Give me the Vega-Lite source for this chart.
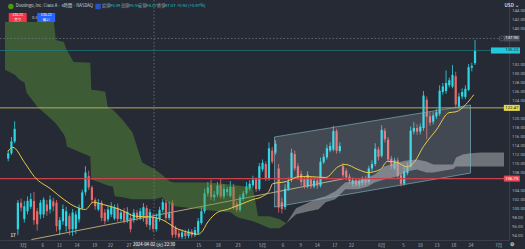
{
"$schema":"https://vega.github.io/schema/vega-lite/v6.json",
"width":509,"height":240,
"autosize":{"type":"none"},
"padding":{"left":0,"top":0,"right":16,"bottom":9},
"background":"#262a34",
"config":{"view":{"stroke":null},"font":"Noto Sans CJK JP"},
"resolve":{"axis":{"x":"independent","y":"independent"}},
"datasets":{
"candles":[
{"i":0,"o":111.2,"h":113,"l":110.6,"c":112.4},{"i":1,"o":112.4,"h":116,"l":112,"c":115},{"i":2,"o":115,"h":119.5,"l":114.6,"c":117.8},
{"i":3,"o":95.5,"h":102,"l":94.2,"c":101.4},{"i":4,"o":101.4,"h":102.3,"l":99.5,"c":100.3},{"i":5,"o":97.8,"h":101.8,"l":97,"c":100.6},
{"i":6,"o":99.5,"h":102.8,"l":98.8,"c":101.8},{"i":7,"o":100.5,"h":103.5,"l":100,"c":102.2},{"i":8,"o":101.8,"h":103.8,"l":96.5,"c":97.5},
{"i":9,"o":99.5,"h":100.2,"l":95.2,"c":96.6},{"i":10,"o":98.8,"h":102,"l":97.8,"c":101.4},{"i":11,"o":98.8,"h":102.6,"l":98,"c":102.1},
{"i":12,"o":101,"h":102,"l":98.5,"c":99.5},{"i":13,"o":99.9,"h":103,"l":99,"c":102.1},{"i":14,"o":101.7,"h":102.5,"l":99.5,"c":100.6},
{"i":15,"o":101.4,"h":102,"l":95,"c":96.2},{"i":16,"o":95.4,"h":98.2,"l":94.2,"c":97.5},{"i":17,"o":97.3,"h":101,"l":96.5,"c":100},
{"i":18,"o":96.2,"h":100.5,"l":95,"c":99.5},{"i":19,"o":98.4,"h":99,"l":94.2,"c":95.5},{"i":20,"o":95.5,"h":100,"l":94,"c":99.2},
{"i":21,"o":95.6,"h":99.5,"l":94.5,"c":98.8},{"i":22,"o":97.7,"h":101,"l":97,"c":100.2},{"i":23,"o":100.2,"h":104.3,"l":99.8,"c":103.7},
{"i":24,"o":103.7,"h":109.5,"l":103,"c":108.1},{"i":25,"o":107.3,"h":108.5,"l":104.2,"c":104.8},{"i":26,"o":104.8,"h":105.2,"l":101.2,"c":102},
{"i":27,"o":102,"h":102.5,"l":99.8,"c":100.6},{"i":28,"o":99.9,"h":102.2,"l":99.5,"c":101.3},{"i":29,"o":101.4,"h":101.9,"l":97.3,"c":98},
{"i":30,"o":99.2,"h":100,"l":96.6,"c":97.3},{"i":31,"o":97.7,"h":100.6,"l":97.2,"c":99.9},{"i":32,"o":98.8,"h":101.5,"l":98.2,"c":100.5},
{"i":33,"o":97.9,"h":101,"l":97.5,"c":100.3},{"i":34,"o":100.3,"h":101.2,"l":97.2,"c":97.8},{"i":35,"o":97.8,"h":99.8,"l":97.3,"c":99.2},
{"i":36,"o":99.5,"h":100.2,"l":96.8,"c":97.2},{"i":37,"o":97.4,"h":100.4,"l":96.9,"c":99.4},{"i":38,"o":98,"h":99,"l":94.8,"c":95.5},
{"i":39,"o":97.6,"h":100,"l":97,"c":99.2},{"i":40,"o":99.2,"h":99.8,"l":97.4,"c":98},{"i":41,"o":98,"h":100.2,"l":97.5,"c":99.5},
{"i":42,"o":98.5,"h":101.3,"l":97.2,"c":100.4},{"i":43,"o":100.2,"h":100.8,"l":96,"c":96.6},{"i":44,"o":96.4,"h":100,"l":95.4,"c":99.3},
{"i":45,"o":98.2,"h":99,"l":95,"c":95.6},{"i":46,"o":95.5,"h":99,"l":95,"c":98},{"i":47,"o":97.8,"h":100.5,"l":97.2,"c":99.8},
{"i":48,"o":99.8,"h":102.2,"l":99.2,"c":101.5},{"i":49,"o":101.4,"h":102,"l":97.4,"c":98},{"i":50,"o":98,"h":101.7,"l":97.5,"c":99},
{"i":51,"o":101.4,"h":102,"l":93.6,"c":94.2},{"i":52,"o":95.8,"h":96.3,"l":93.6,"c":94.3},{"i":53,"o":94.6,"h":95.5,"l":93.4,"c":93.8},
{"i":54,"o":93.8,"h":95.5,"l":93.3,"c":94.8},{"i":55,"o":94.8,"h":95.4,"l":93.3,"c":94},{"i":56,"o":94,"h":95.6,"l":93.5,"c":95},
{"i":57,"o":95,"h":95.5,"l":93.6,"c":94.2},{"i":58,"o":94.2,"h":96,"l":93.8,"c":95.3},{"i":59,"o":94.7,"h":98,"l":94.3,"c":97.3},
{"i":60,"o":96.9,"h":100.5,"l":96.5,"c":99.5},{"i":61,"o":99.5,"h":104.5,"l":99,"c":103.5},{"i":62,"o":103.5,"h":106,"l":102.8,"c":104.8},
{"i":63,"o":105.4,"h":106.5,"l":102,"c":102.6},{"i":64,"o":102.6,"h":104,"l":101.8,"c":103.2},{"i":65,"o":103.2,"h":106,"l":102.6,"c":105.2},
{"i":66,"o":105.4,"h":106.8,"l":102.3,"c":102.8},{"i":67,"o":102.8,"h":105.5,"l":102.2,"c":104.5},{"i":68,"o":103.8,"h":105,"l":103,"c":104.4},
{"i":69,"o":102.9,"h":106.2,"l":102.5,"c":104.9},{"i":70,"o":104.9,"h":105.6,"l":99.8,"c":100.4},{"i":71,"o":101.2,"h":101.8,"l":99.3,"c":99.8},
{"i":72,"o":99.8,"h":103.2,"l":99.3,"c":102.6},{"i":73,"o":102.2,"h":104,"l":101.8,"c":103.5},{"i":74,"o":103.5,"h":106,"l":103,"c":105},
{"i":75,"o":104.5,"h":106.4,"l":104,"c":105.6},{"i":76,"o":105.3,"h":107.4,"l":104.8,"c":106.5},{"i":77,"o":106.6,"h":107,"l":103.8,"c":104.4},
{"i":78,"o":104.4,"h":110.2,"l":104,"c":109.5},{"i":79,"o":108.8,"h":111,"l":108.3,"c":110.3},{"i":80,"o":110,"h":110.6,"l":106.2,"c":106.8},
{"i":81,"o":106.8,"h":114.8,"l":106.3,"c":113.5},{"i":82,"o":113,"h":113.8,"l":110,"c":110.5},{"i":83,"o":112.5,"h":115.3,"l":112,"c":114.5},
{"i":84,"o":109,"h":110,"l":99.2,"c":100.3},{"i":85,"o":101.5,"h":102.5,"l":99,"c":100},{"i":86,"o":100.4,"h":105.5,"l":99.8,"c":104.5},
{"i":87,"o":104.5,"h":107,"l":104,"c":106},{"i":88,"o":106.5,"h":113.4,"l":106,"c":112.5},{"i":89,"o":112.2,"h":113,"l":108.5,"c":109},
{"i":90,"o":109.5,"h":110.2,"l":106.5,"c":107},{"i":91,"o":107.8,"h":108.5,"l":105.2,"c":106},{"i":92,"o":106.8,"h":107.3,"l":104.5,"c":105},
{"i":93,"o":105,"h":108.4,"l":104.6,"c":107.6},{"i":94,"o":106.6,"h":107.2,"l":104.5,"c":105},{"i":95,"o":105,"h":107,"l":104.6,"c":106.3},
{"i":96,"o":106.3,"h":106.8,"l":104.5,"c":105.2},{"i":97,"o":105.2,"h":111.4,"l":104.8,"c":110.5},{"i":98,"o":110.4,"h":112.3,"l":110,"c":111.6},
{"i":99,"o":111.5,"h":114.3,"l":111,"c":113.5},{"i":100,"o":113,"h":114.8,"l":112.6,"c":114},{"i":101,"o":113.2,"h":118.5,"l":112.8,"c":117.3},
{"i":102,"o":117.3,"h":117.8,"l":112.3,"c":112.9},{"i":103,"o":112.9,"h":114.8,"l":112.5,"c":114},{"i":104,"o":109.5,"h":110.2,"l":107,"c":107.5},
{"i":105,"o":108.5,"h":109,"l":106.5,"c":107},{"i":106,"o":107.2,"h":107.8,"l":105.6,"c":106.2},{"i":107,"o":105.6,"h":107,"l":105,"c":106.4},
{"i":108,"o":106.4,"h":106.9,"l":105,"c":105.4},{"i":109,"o":105.4,"h":106.8,"l":104.8,"c":106.2},{"i":110,"o":105.8,"h":107.2,"l":105.3,"c":106.6},
{"i":111,"o":106.8,"h":107.4,"l":105.2,"c":105.8},{"i":112,"o":106,"h":109.6,"l":105.6,"c":109},{"i":113,"o":109,"h":110.8,"l":108.4,"c":110},
{"i":114,"o":110,"h":114.6,"l":109.5,"c":113.4},{"i":115,"o":113.2,"h":113.8,"l":110.8,"c":111.6},{"i":116,"o":111.8,"h":118.6,"l":111.4,"c":117.6},
{"i":117,"o":117.4,"h":118,"l":114.8,"c":115.5},{"i":118,"o":115.4,"h":116,"l":110.4,"c":111},{"i":119,"o":111.2,"h":111.8,"l":108.9,"c":109.5},
{"i":120,"o":109,"h":111.4,"l":108.6,"c":110.8},{"i":121,"o":110.8,"h":111.4,"l":106.8,"c":107.3},{"i":122,"o":107.5,"h":108,"l":105,"c":105.6},
{"i":123,"o":105.6,"h":109.5,"l":105.2,"c":108.4},{"i":124,"o":108,"h":110.3,"l":107.5,"c":109.5},{"i":125,"o":109.4,"h":118.3,"l":109,"c":117.4},
{"i":126,"o":117.2,"h":119.3,"l":116.6,"c":118},{"i":127,"o":118,"h":118.8,"l":116.5,"c":117.2},{"i":128,"o":117.2,"h":119,"l":116.6,"c":118.3},
{"i":129,"o":118,"h":126.2,"l":117.4,"c":125.2},{"i":130,"o":124.3,"h":125,"l":115.5,"c":120.5},{"i":131,"o":120.6,"h":121.5,"l":118.5,"c":119.2},
{"i":132,"o":119.4,"h":121.5,"l":118.8,"c":120.8},{"i":133,"o":120.6,"h":122.2,"l":120,"c":121.5},{"i":134,"o":121.2,"h":127.5,"l":120.7,"c":126.3},
{"i":135,"o":126,"h":128,"l":125.4,"c":127.2},{"i":136,"o":126.2,"h":130.8,"l":125.6,"c":128},{"i":137,"o":127.5,"h":129.2,"l":127,"c":128.6},
{"i":138,"o":127.2,"h":132,"l":126.8,"c":129.8},{"i":139,"o":129.5,"h":130.5,"l":122.6,"c":123.2},{"i":140,"o":122.8,"h":125.8,"l":122.3,"c":125},
{"i":141,"o":125,"h":126.8,"l":124.4,"c":126},{"i":142,"o":124.9,"h":127.5,"l":124.4,"c":126.7},{"i":143,"o":126.5,"h":132.2,"l":126.2,"c":131.5},
{"i":144,"o":131.4,"h":132.5,"l":130.6,"c":131.8},{"i":145,"o":132.4,"h":137.6,"l":132,"c":135.22}
],
"ma":[
{"i":-0.1,"v":112.8},{"i":1.4,"v":113.7},{"i":5.1,"v":110.3},{"i":8.1,"v":107.2},{"i":13.3,"v":104.4},{"i":17.3,"v":102.1},{"i":21.2,"v":100.4},{"i":24,"v":99.9},{"i":26.4,"v":101.5},{"i":29.5,"v":101},{"i":34.7,"v":99.9},{"i":39.5,"v":98.4},{"i":44.7,"v":98.2},{"i":48.7,"v":97.3},{"i":51.7,"v":95.9},{"i":56,"v":94.8},{"i":59,"v":94.4},{"i":60,"v":94.8},{"i":62,"v":97.1},{"i":65.1,"v":99.3},{"i":68.1,"v":99.9},{"i":72.1,"v":101},{"i":76,"v":102.1},{"i":79,"v":102.8},{"i":81.2,"v":104.2},{"i":82.1,"v":105.6},{"i":86.4,"v":106.1},{"i":90.4,"v":107.2},{"i":93.4,"v":107.2},{"i":98.6,"v":107},{"i":102.5,"v":109.4},{"i":104.7,"v":109.9},{"i":108.6,"v":108.8},{"i":111.7,"v":108.1},{"i":115.6,"v":108.8},{"i":117.8,"v":110.6},{"i":120.8,"v":110.3},{"i":123.8,"v":109.4},{"i":126,"v":110.3},{"i":129,"v":113.9},{"i":133,"v":117.6},{"i":136.9,"v":121.4},{"i":139.1,"v":121.6},{"i":142.1,"v":123.2},{"i":144.6,"v":125.4}
],
"green":[
{"i":-1,"top":141.55,"bot":130.92},{"i":2.05,"top":141.55,"bot":129.82},{"i":3.57,"top":141.55,"bot":128.71},{"i":5.09,"top":141.55,"bot":128.05},{"i":5.7,"top":141.55,"bot":125.83},{"i":9.05,"top":141.55,"bot":122.73},{"i":13.6,"top":141.55,"bot":119.85},{"i":14.2,"top":141.55,"bot":119.41},{"i":14.8,"top":137.56,"bot":118.97},{"i":17.3,"top":137.12,"bot":116.53},{"i":17.9,"top":135.79,"bot":115.43},{"i":18.2,"top":135.35,"bot":113.88},{"i":20.3,"top":132.69,"bot":113.21},{"i":25.5,"top":132.47,"bot":111.66},{"i":25.8,"top":126.5,"bot":106.57},{"i":28.5,"top":126.27,"bot":105.91},{"i":30.1,"top":126.05,"bot":105.46},{"i":31,"top":122.51,"bot":105.24},{"i":32.5,"top":122.07,"bot":105.02},{"i":33.1,"top":121.63,"bot":102.81},{"i":35.5,"top":119.85,"bot":102.59},{"i":38.6,"top":116.98,"bot":102.14},{"i":41.6,"top":110.33,"bot":102.14},{"i":45.6,"top":108.78,"bot":102.14},{"i":47.7,"top":107.68,"bot":102.59},{"i":50.2,"top":106.13,"bot":101.04},{"i":51.7,"top":105.91,"bot":100.59},{"i":59.9,"top":105.91,"bot":99.93},{"i":62,"top":105.91,"bot":99.71},{"i":69,"top":105.46,"bot":99.27},{"i":71.2,"top":105.24,"bot":98.16},{"i":76,"top":104.8,"bot":97.27},{"i":77.6,"top":98.38,"bot":96.83},{"i":81.2,"top":98.38,"bot":95.72},{"i":84.3,"top":97.71,"bot":95.72},{"i":86.4,"top":96.83,"bot":96.83}
],
"gray":[
{"i":86.4,"top":96.83,"bot":96.83},{"i":89.4,"top":100.15,"bot":98.82},{"i":93.4,"top":101.48,"bot":99.49},{"i":96.4,"top":102.36,"bot":99.93},{"i":98.6,"top":102.81,"bot":101.48},{"i":101.6,"top":103.92,"bot":102.14},{"i":104.7,"top":105.91,"bot":104.36},{"i":108.6,"top":106.35,"bot":104.36},{"i":111.7,"top":107.01,"bot":105.02},{"i":113.8,"top":107.68,"bot":105.91},{"i":116.8,"top":109.45,"bot":106.57},{"i":120.8,"top":110.33,"bot":107.23},{"i":123.8,"top":110.78,"bot":108.34},{"i":126.9,"top":111,"bot":108.78},{"i":129.9,"top":110.56,"bot":108.12},{"i":132.1,"top":109.89,"bot":108.12},{"i":138.2,"top":109.89,"bot":108.9},{"i":139.1,"top":111.44,"bot":109.45},{"i":141.2,"top":112.11,"bot":109.45},{"i":143,"top":112.33,"bot":109.45},{"i":146.7,"top":112.55,"bot":109.45},{"i":154,"top":112.55,"bot":109.45}
],
"channel":[{"i":82.7,"top":116.0,"bot":100.44},{"i":143.6,"top":123.11,"bot":107.99}],
"trend":[{"i":7.2,"v":93.2},{"i":104.1,"v":106.7}],
"levels":[{"v":122.47,"k":"yel","label":"122.47"},{"v":106.75,"k":"red","label":"106.75"},{"v":135.22,"k":"last","label":"135.22"},{"v":137.9,"k":"cross","label":"137.90"}],
"vcross":[{"i":45.3,"label":"2024-04-02 (火) 22:30"}],
"hdr":[
{"i":2.35,"v":145.0,"label":"Duolingo, Inc. Class A · 4時間 · NASDAQ","g":"title"},
{"i":29.15,"v":145.0,"label":"始値","g":"lab"},{"i":31.6,"v":145.0,"label":"95.09","g":"val"},
{"i":35.0,"v":145.0,"label":"高値","g":"lab"},{"i":37.5,"v":145.0,"label":"95.55","g":"val"},
{"i":40.4,"v":145.0,"label":"安値","g":"lab"},{"i":42.9,"v":145.0,"label":"94.07","g":"val"},
{"i":46.2,"v":145.0,"label":"終値","g":"lab"},{"i":48.7,"v":145.0,"label":"97.07","g":"val"},
{"i":52.4,"v":145.0,"label":"+0.92 (+0.97%)","g":"val"},
{"i":7.37,"v":142.55,"label":"0.00","g":"title"}
],
"btn":[{"i":2.96,"v":142.55,"k":"sell"},{"i":11.8,"v":142.55,"k":"buy"}],
"btntxt":[{"i":2.96,"v":143.2,"label":"135.22"},{"i":2.96,"v":141.95,"label":"売り"},{"i":11.8,"v":143.2,"label":"135.22"},{"i":11.8,"v":141.95,"label":"買い"}],
"icons":[{"i":0.83,"v":145.0,"k":"owl"},{"i":27.9,"v":145.0,"k":"sq"}],
"misc":[{"i":156.4,"v":145.2,"label":"USD ⌄"},{"i":156.4,"v":92.0,"label":"⚙"},{"i":1.5,"v":94.0,"label":"17"}]
},
"layer":[
{"data":{"name":"trend"},"mark":{"type":"line","color":"#c8b27a","strokeWidth":0.9},
 "encoding":{"x":{"field":"i","type":"quantitative","scale":{"domain":[-1,154],"nice":false,"zero":false},"axis":null},
 "y":{"field":"v","type":"quantitative","scale":{"domain":[93.11,146.44],"nice":false,"zero":false},"axis":null}}},
{"data":{"name":"candles"},"mark":{"type":"rule","strokeWidth":0.8},
 "encoding":{"x":{"field":"i","type":"quantitative","scale":{"domain":[-1,154],"nice":false,"zero":false},
   "axis":{"orient":"bottom","values":[4.48,10.57,15.75,21.2,26.7,31.6,37.4,59,65.1,71.2,78.8,85.2,90.7,95.8,101.3,106.5,115.9,122.6,127.8,133,138.2,143.6,152.2],
   "labelExpr":"['3月','6','11','14','19','22','27','15','18','23','5月','6','9','14','17','22','6月','5','10','13','18','24','7月'][indexof([4.48,10.57,15.75,21.2,26.7,31.6,37.4,59,65.1,71.2,78.8,85.2,90.7,95.8,101.3,106.5,115.9,122.6,127.8,133,138.2,143.6,152.2], datum.value)]",
   "labelFontSize":4.5,"labelColor":"#b2b5be","ticks":false,"domain":true,"domainColor":"#3a3e4a","grid":false,"labelPadding":2,"title":null,"labelOverlap":false,"labelFlush":false}},
 "y":{"field":"l","type":"quantitative","scale":{"domain":[93.11,146.44],"nice":false,"zero":false},
   "axis":{"orient":"right","values":[94,96,98,100,102,104,108,110,112,114,116,118,120,124,126,128,130,132,140,142,144],"format":".2f",
   "labelFontSize":4.3,"labelColor":"#b2b5be","ticks":false,"domain":true,"domainColor":"#3a3e4a","grid":false,"labelPadding":2.5,"title":null,"labelOverlap":false,"labelFont":"Roboto"}},
 "y2":{"field":"h"},
 "color":{"condition":{"test":"datum.c >= datum.o","value":"#2ad8e6"},"value":"#e8696b"}}},
{"data":{"name":"candles"},"mark":{"type":"bar","width":2.2},
 "encoding":{"x":{"field":"i","type":"quantitative","scale":{"domain":[-1,154],"nice":false,"zero":false},"axis":null},
 "y":{"field":"o","type":"quantitative","scale":{"domain":[93.11,146.44],"nice":false,"zero":false},"axis":null},
 "y2":{"field":"c"},
 "color":{"condition":{"test":"datum.c >= datum.o","value":"#2ad8e6"},"value":"#e8696b"}}},
{"data":{"name":"green"},"mark":{"type":"area","color":"#5a9637","opacity":0.45},
 "encoding":{"x":{"field":"i","type":"quantitative","scale":{"domain":[-1,154],"nice":false,"zero":false},"axis":null},
 "y":{"field":"top","type":"quantitative","scale":{"domain":[93.11,146.44],"nice":false,"zero":false},"axis":null},
 "y2":{"field":"bot"}}},
{"data":{"name":"gray"},"mark":{"type":"area","color":"#a0a2a8","opacity":0.6},
 "encoding":{"x":{"field":"i","type":"quantitative","scale":{"domain":[-1,154],"nice":false,"zero":false},"axis":null},
 "y":{"field":"top","type":"quantitative","scale":{"domain":[93.11,146.44],"nice":false,"zero":false},"axis":null},
 "y2":{"field":"bot"}}},
{"data":{"name":"channel"},"mark":{"type":"area","fill":"#cad8e4","fillOpacity":0.18,"stroke":"#79aebd","strokeWidth":0.7},
 "encoding":{"x":{"field":"i","type":"quantitative","scale":{"domain":[-1,154],"nice":false,"zero":false},"axis":null},
 "y":{"field":"top","type":"quantitative","scale":{"domain":[93.11,146.44],"nice":false,"zero":false},"axis":null},
 "y2":{"field":"bot"}}},
{"data":{"name":"levels"},"transform":[{"filter":"datum.k==='yel'"}],"mark":{"type":"rule","color":"#b3ad5c","strokeWidth":1},
 "encoding":{"y":{"field":"v","type":"quantitative","scale":{"domain":[93.11,146.44],"nice":false,"zero":false},"axis":null}}},
{"data":{"name":"levels"},"transform":[{"filter":"datum.k==='red'"}],"mark":{"type":"rule","color":"#c9404f","strokeWidth":1.3},
 "encoding":{"y":{"field":"v","type":"quantitative","scale":{"domain":[93.11,146.44],"nice":false,"zero":false},"axis":null}}},
{"data":{"name":"levels"},"transform":[{"filter":"datum.k==='last'"}],"mark":{"type":"rule","color":"#1f7d86","strokeWidth":0.7},
 "encoding":{"y":{"field":"v","type":"quantitative","scale":{"domain":[93.11,146.44],"nice":false,"zero":false},"axis":null}}},
{"data":{"name":"levels"},"transform":[{"filter":"datum.k==='cross'"}],"mark":{"type":"rule","color":"#7d808a","strokeWidth":0.7,"strokeDash":[1.5,2]},
 "encoding":{"y":{"field":"v","type":"quantitative","scale":{"domain":[93.11,146.44],"nice":false,"zero":false},"axis":null}}},
{"data":{"name":"vcross"},"mark":{"type":"rule","color":"#7d808a","strokeWidth":0.7,"strokeDash":[1.5,2]},
 "encoding":{"x":{"field":"i","type":"quantitative","scale":{"domain":[-1,154],"nice":false,"zero":false},"axis":null}}},
{"data":{"name":"ma"},"mark":{"type":"line","color":"#e9cd4c","strokeWidth":1,"interpolate":"monotone"},
 "encoding":{"x":{"field":"i","type":"quantitative","scale":{"domain":[-1,154],"nice":false,"zero":false},"axis":null},
 "y":{"field":"v","type":"quantitative","scale":{"domain":[93.11,146.44],"nice":false,"zero":false},"axis":null}}},
{"data":{"name":"icons"},"mark":{"type":"point","filled":true,"size":30,"strokeWidth":0},
 "encoding":{"x":{"field":"i","type":"quantitative","scale":{"domain":[-1,154],"nice":false,"zero":false},"axis":null},
 "y":{"field":"v","type":"quantitative","scale":{"domain":[93.11,146.44],"nice":false,"zero":false},"axis":null},
 "shape":{"condition":{"test":"datum.k==='owl'","value":"circle"},"value":"square"},
 "color":{"condition":{"test":"datum.k==='owl'","value":"#58cc02"},"value":"#2962ff"}}},
{"data":{"name":"hdr"},"mark":{"type":"text","align":"left","baseline":"middle","fontSize":4.2},
 "encoding":{"x":{"field":"i","type":"quantitative","scale":{"domain":[-1,154],"nice":false,"zero":false},"axis":null},
 "y":{"field":"v","type":"quantitative","scale":{"domain":[93.11,146.44],"nice":false,"zero":false},"axis":null},
 "text":{"field":"label"},
 "color":{"condition":[{"test":"datum.g==='val'","value":"#22c2d2"},{"test":"datum.g==='title'","value":"#d1d4dc"}],"value":"#9598a1"}}},
{"data":{"name":"btn"},"mark":{"type":"point","filled":true,"size":324,"strokeWidth":0,"opacity":1,"shape":"M-1,-0.5H1V0.5H-1Z"},
 "encoding":{"x":{"field":"i","type":"quantitative","scale":{"domain":[-1,154],"nice":false,"zero":false},"axis":null},
 "y":{"field":"v","type":"quantitative","scale":{"domain":[93.11,146.44],"nice":false,"zero":false},"axis":null},
 "color":{"condition":{"test":"datum.k==='sell'","value":"#f23645"},"value":"#2962ff"}}},
{"data":{"name":"btntxt"},"mark":{"type":"text","align":"center","baseline":"middle","fontSize":3.6,"color":"#ffffff"},
 "encoding":{"x":{"field":"i","type":"quantitative","scale":{"domain":[-1,154],"nice":false,"zero":false},"axis":null},
 "y":{"field":"v","type":"quantitative","scale":{"domain":[93.11,146.44],"nice":false,"zero":false},"axis":null},
 "text":{"field":"label"}}},
{"data":{"name":"levels"},"transform":[{"filter":"datum.k!=='last'"}],"mark":{"type":"point","filled":true,"size":256,"strokeWidth":0,"opacity":1,"shape":"M-1,-0.375H1V0.375H-1Z"},
 "encoding":{"x":{"datum":156.43,"type":"quantitative","scale":{"domain":[-1,154],"nice":false,"zero":false},"axis":null},
 "y":{"field":"v","type":"quantitative","scale":{"domain":[93.11,146.44],"nice":false,"zero":false},"axis":null},
 "color":{"condition":[{"test":"datum.k==='cross'","value":"#4a4e5a"},{"test":"datum.k==='yel'","value":"#e3dc4f"}],"value":"#e24a57"}}},
{"data":{"name":"levels"},"transform":[{"filter":"datum.k==='last'"}],"mark":{"type":"point","filled":true,"size":841,"strokeWidth":0,"opacity":1,"shape":"M-1,-0.21H1V0.21H-1Z","color":"#22c9dc"},
 "encoding":{"x":{"datum":154.45,"type":"quantitative","scale":{"domain":[-1,154],"nice":false,"zero":false},"axis":null},
 "y":{"field":"v","type":"quantitative","scale":{"domain":[93.11,146.44],"nice":false,"zero":false},"axis":null}}},
{"data":{"name":"levels"},"mark":{"type":"text","align":"center","baseline":"middle","fontSize":4.3,"font":"Roboto"},
 "encoding":{"x":{"datum":156.43,"type":"quantitative","scale":{"domain":[-1,154],"nice":false,"zero":false},"axis":null},
 "y":{"field":"v","type":"quantitative","scale":{"domain":[93.11,146.44],"nice":false,"zero":false},"axis":null},
 "text":{"field":"label"},
 "color":{"condition":[{"test":"datum.k==='yel'","value":"#131722"},{"test":"datum.k==='last'","value":"#131722"}],"value":"#ffffff"}}},
{"data":{"name":"levels"},"transform":[{"filter":"datum.k==='cross'"}],"mark":{"type":"point","filled":false,"size":26,"strokeWidth":0.6,"color":"#8a8d96","shape":"circle"},
 "encoding":{"x":{"datum":153.3,"type":"quantitative","scale":{"domain":[-1,154],"nice":false,"zero":false},"axis":null},
 "y":{"field":"v","type":"quantitative","scale":{"domain":[93.11,146.44],"nice":false,"zero":false},"axis":null}}},
{"data":{"name":"vcross"},"mark":{"type":"point","filled":true,"size":1764,"strokeWidth":0,"opacity":1,"shape":"M-1,-0.2H1V0.2H-1Z","color":"#363a45"},
 "encoding":{"x":{"field":"i","type":"quantitative","scale":{"domain":[-1,154],"nice":false,"zero":false},"axis":null},
 "y":{"datum":92.0,"type":"quantitative","scale":{"domain":[93.11,146.44],"nice":false,"zero":false},"axis":null}}},
{"data":{"name":"vcross"},"mark":{"type":"text","align":"center","baseline":"middle","fontSize":4.3,"color":"#ffffff"},
 "encoding":{"x":{"field":"i","type":"quantitative","scale":{"domain":[-1,154],"nice":false,"zero":false},"axis":null},
 "y":{"datum":92.0,"type":"quantitative","scale":{"domain":[93.11,146.44],"nice":false,"zero":false},"axis":null},
 "text":{"field":"label"}}},
{"data":{"name":"misc"},"mark":{"type":"text","align":"center","baseline":"middle","fontSize":4.5,"color":"#d1d4dc","fontWeight":"bold"},
 "encoding":{"x":{"field":"i","type":"quantitative","scale":{"domain":[-1,154],"nice":false,"zero":false},"axis":null},
 "y":{"field":"v","type":"quantitative","scale":{"domain":[93.11,146.44],"nice":false,"zero":false},"axis":null},
 "text":{"field":"label"}}}
]
}
